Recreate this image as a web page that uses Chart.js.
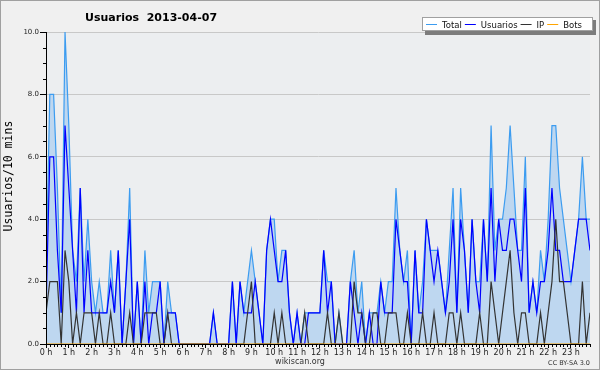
<!DOCTYPE html>
<html>
<head>
<meta charset="utf-8">
<script src="https://cdn.jsdelivr.net/npm/chart.js@4.4.1/dist/chart.umd.min.js"></script>
<style>
  html, body { margin: 0; padding: 0; background: #f0f0f0; }
  canvas { display: block; }
</style>
</head>
<body>
<canvas id="chart" width="600" height="370"></canvas>
<script>
// one value per 10 minutes, 2013-04-07, 00:00 -> 23:50 (12 values per row = 2 hours)
const total = [
  2, 8, 8, 5, 1, 10, 7, 3, 2, 5, 2, 4,
  2, 1, 2, 1, 1, 3, 1, 3, 0, 2, 5, 0,
  2, 0, 3, 1, 2, 2, 2, 0, 2, 1, 1, 0,
  0, 0, 0, 0, 0, 0, 0, 0, 1, 0, 0, 0,
  0, 2, 0, 2, 1, 2, 3, 2, 1, 0, 3, 4,
  4, 2, 3, 3, 1, 0, 1, 0, 1, 1, 1, 1,
  1, 3, 2, 2, 0, 1, 0, 0, 2, 3, 1, 2,
  0, 1, 1, 1, 2, 1, 2, 2, 5, 3, 2, 3,
  0, 3, 1, 2, 4, 3, 3, 3, 2, 1, 3, 5,
  1, 5, 3, 1, 4, 2, 2, 4, 2, 7, 3, 4,
  4, 5, 7, 5, 3, 3, 6, 1, 2, 1, 3, 2,
  4, 7, 7, 5, 4, 3, 2, 3, 4, 6, 4, 4
];
const usuarios = [
  1, 6, 6, 3, 1, 7, 5, 3, 1, 5, 1, 3,
  1, 1, 1, 1, 1, 2, 1, 3, 0, 2, 4, 0,
  2, 0, 2, 0, 1, 1, 2, 0, 1, 1, 1, 0,
  0, 0, 0, 0, 0, 0, 0, 0, 1, 0, 0, 0,
  0, 2, 0, 2, 1, 1, 1, 2, 1, 0, 3, 4,
  3, 2, 2, 3, 1, 0, 1, 0, 0, 1, 1, 1,
  1, 3, 1, 2, 0, 0, 0, 0, 2, 1, 0, 1,
  0, 1, 0, 0, 2, 1, 1, 1, 4, 3, 2, 2,
  0, 3, 1, 1, 4, 3, 2, 3, 2, 1, 2, 4,
  1, 4, 3, 1, 4, 2, 1, 4, 2, 5, 2, 4,
  3, 3, 4, 4, 3, 2, 5, 1, 2, 1, 2, 2,
  3, 5, 3, 3, 2, 2, 2, 3, 4, 4, 4, 3
];
const ip = [
  1, 2, 2, 2, 0, 3, 2, 0, 1, 0, 1, 1,
  1, 0, 1, 0, 0, 1, 0, 0, 0, 0, 1, 0,
  0, 0, 1, 1, 1, 1, 0, 0, 1, 0, 0, 0,
  0, 0, 0, 0, 0, 0, 0, 0, 0, 0, 0, 0,
  0, 0, 0, 0, 0, 1, 2, 0, 0, 0, 0, 0,
  1, 0, 1, 0, 0, 0, 0, 0, 1, 0, 0, 0,
  0, 0, 1, 0, 0, 1, 0, 0, 0, 2, 1, 1,
  0, 0, 1, 1, 0, 0, 1, 1, 1, 0, 0, 1,
  0, 0, 0, 1, 0, 0, 1, 0, 0, 0, 1, 1,
  0, 1, 0, 0, 0, 0, 1, 0, 0, 2, 1, 0,
  1, 2, 3, 1, 0, 1, 1, 0, 0, 0, 1, 0,
  1, 2, 4, 2, 2, 1, 0, 0, 0, 2, 0, 1
];
const bots = [
  0, 0, 0, 0, 0, 0, 0, 0, 0, 0, 0, 0,
  0, 0, 0, 0, 0, 0, 0, 0, 0, 0, 0, 0,
  0, 0, 0, 0, 0, 0, 0, 0, 0, 0, 0, 0,
  0, 0, 0, 0, 0, 0, 0, 0, 0, 0, 0, 0,
  0, 0, 0, 0, 0, 0, 0, 0, 0, 0, 0, 0,
  0, 0, 0, 0, 0, 0, 0, 0, 0, 0, 0, 0,
  0, 0, 0, 0, 0, 0, 0, 0, 0, 0, 0, 0,
  0, 0, 0, 0, 0, 0, 0, 0, 0, 0, 0, 0,
  0, 0, 0, 0, 0, 0, 0, 0, 0, 0, 0, 0,
  0, 0, 0, 0, 0, 0, 0, 0, 0, 0, 0, 0,
  0, 0, 0, 0, 0, 0, 0, 0, 0, 0, 0, 0,
  0, 0, 0, 0, 0, 0, 0, 0, 0, 0, 0, 0
];
const hourLabels = [
  "0 h", "1 h", "2 h", "3 h", "4 h", "5 h", "6 h", "7 h", "8 h", "9 h", "10 h", "11 h",
  "12 h", "13 h", "14 h", "15 h", "16 h", "17 h", "18 h", "19 h", "20 h", "21 h", "22 h", "23 h"
];
const slotsPerHour = 6;

const toPoints = arr => arr.map((v, i) => ({ x: i, y: v }));

Chart.defaults.font.family = "'DejaVu Sans', sans-serif";

// background, minor ticks, title, legend box, footer
const decor = {
  id: "decor",
  beforeDraw(chart) {
    const { ctx, chartArea: a } = chart;
    ctx.save();
    ctx.fillStyle = "#f0f0f0";
    ctx.fillRect(0, 0, chart.width, chart.height);
    ctx.fillStyle = "#eceef0";
    ctx.fillRect(a.left, a.top, a.right - a.left, a.bottom - a.top);
    ctx.restore();
  },
  afterDraw(chart) {
    const { ctx, chartArea: a, scales } = chart;
    ctx.save();
    ctx.strokeStyle = "#000";
    ctx.lineWidth = 1;
    ctx.beginPath();
    // minor y ticks every 0.5
    for (let v = 0.5; v < 10; v += 0.5) {
      if (v % 2 === 0) continue;
      const y = Math.round(scales.y.getPixelForValue(v)) + 0.5;
      ctx.moveTo(a.left - 3, y);
      ctx.lineTo(a.left, y);
    }
    // minor x ticks every 10 minutes
    for (let i = 1; i < total.length; i++) {
      if (i % slotsPerHour === 0) continue;
      const x = Math.round(scales.x.getPixelForValue(i)) + 0.5;
      ctx.moveTo(x, a.bottom);
      ctx.lineTo(x, a.bottom + 3);
    }
    ctx.stroke();

    // title
    ctx.fillStyle = "#000";
    ctx.font = "bold 11px 'DejaVu Sans'";
    ctx.textBaseline = "alphabetic";
    ctx.fillText("Usuarios  2013-04-07", 85, 21);

    // y axis title
    ctx.save();
    ctx.translate(12, 176);
    ctx.rotate(-Math.PI / 2);
    ctx.textAlign = "center";
    ctx.font = "11.5px 'DejaVu Sans Mono'";
    ctx.fillText("Usuarios/10 mins", 0, 0);
    ctx.restore();

    // legend box
    ctx.fillStyle = "#7c7c7c";
    ctx.fillRect(425, 20, 171, 15);
    ctx.fillStyle = "#fff";
    ctx.fillRect(422, 17, 171, 14);
    ctx.strokeStyle = "#a0a0a0";
    ctx.strokeRect(422.5, 17.5, 170, 13);
    ctx.font = "8.5px 'DejaVu Sans'";
    let x = 426;
    chart.data.datasets.forEach(ds => {
      ctx.strokeStyle = ds.borderColor;
      ctx.beginPath();
      ctx.moveTo(x, 24.5);
      ctx.lineTo(x + 11, 24.5);
      ctx.stroke();
      ctx.fillStyle = "#111";
      ctx.fillText(ds.label, x + 16, 28);
      x += 16 + ctx.measureText(ds.label).width + 3;
    });

    // footer
    ctx.fillStyle = "#333";
    ctx.textAlign = "center";
    ctx.font = "8px 'DejaVu Sans'";
    ctx.fillText("wikiscan.org", 300, 364);
    ctx.textAlign = "right";
    ctx.font = "6.5px 'DejaVu Sans'";
    ctx.fillText("CC BY-SA 3.0", 590, 365);

    // frame
    ctx.strokeStyle = "#a0a0a0";
    ctx.strokeRect(0.5, 0.5, chart.width - 1, chart.height - 1);
    ctx.restore();
  }
};

new Chart(document.getElementById("chart"), {
  type: "line",
  data: {
    datasets: [
      { label: "Total", data: toPoints(total), borderColor: "#3c9cf0",
        backgroundColor: "rgba(160,200,240,0.6)", fill: "origin", order: 3 },
      { label: "Usuarios", data: toPoints(usuarios), borderColor: "#0000ff", fill: false, order: 2 },
      { label: "IP", data: toPoints(ip), borderColor: "#333333", fill: false, order: 1 },
      { label: "Bots", data: toPoints(bots), borderColor: "#ffa500", fill: false, order: 0 }
    ]
  },
  options: {
    responsive: false,
    animation: false,
    layout: { padding: { top: 32, right: 10, left: 0, bottom: 0 } },
    elements: {
      line: { borderWidth: 1.2, tension: 0 },
      point: { radius: 0 }
    },
    plugins: { legend: { display: false }, tooltip: { enabled: false } },
    scales: {
      x: {
        type: "linear",
        min: 0,
        max: total.length - 1,
        afterFit(s) { s.height = 26; },
        afterBuildTicks(s) { s.ticks = hourLabels.map((_, h) => ({ value: h * slotsPerHour })); },
        border: { color: "#000", z: 1 },
        grid: { drawOnChartArea: false, tickLength: 4, tickColor: "#000" },
        ticks: {
          autoSkip: false, maxRotation: 0, padding: 0,
          color: "#222", font: { size: 8 },
          callback: v => hourLabels[v / slotsPerHour]
        }
      },
      y: {
        min: 0,
        max: 10,
        afterFit(s) { s.width = 46; },
        border: { color: "#000", z: 1 },
        grid: { color: "#c8c8c8", tickColor: "#000", tickLength: 6 },
        ticks: {
          stepSize: 2, padding: 1, color: "#222", font: { size: 7 },
          callback: v => v.toFixed(1)
        }
      }
    }
  },
  plugins: [decor]
});
</script>
</body>
</html>
